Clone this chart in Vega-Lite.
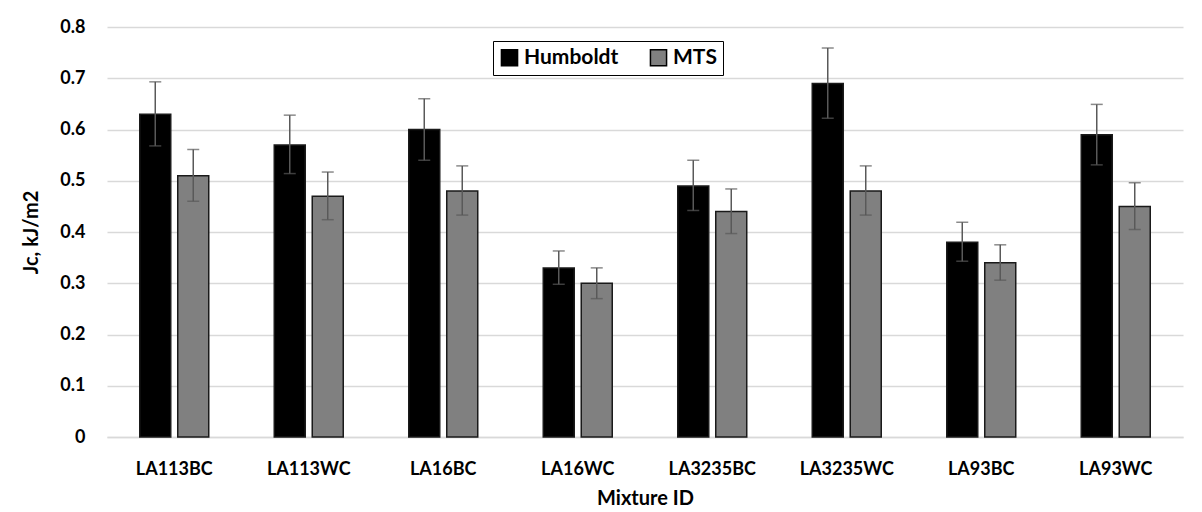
{
  "$schema": "https://vega.github.io/schema/vega-lite/v6.json",
  "width": 1076,
  "height": 410,
  "autosize": {"type": "none"},
  "padding": {"left": 107, "top": 27, "right": 19, "bottom": 75},
  "background": "white",
  "config": {
    "view": {"stroke": null},
    "font": "Lato",
    "axis": {"labelFont": "Lato", "titleFont": "Lato", "labelFontWeight": "bold", "titleFontWeight": "bold", "labelColor": "black", "titleColor": "black"}
  },
  "data": {
    "values": [
      {"mixture": "LA113BC", "device": "Humboldt", "jc": 0.63, "lo": 0.568, "hi": 0.693},
      {"mixture": "LA113BC", "device": "MTS", "jc": 0.51, "lo": 0.460, "hi": 0.561},
      {"mixture": "LA113WC", "device": "Humboldt", "jc": 0.57, "lo": 0.514, "hi": 0.628},
      {"mixture": "LA113WC", "device": "MTS", "jc": 0.47, "lo": 0.424, "hi": 0.517},
      {"mixture": "LA16BC", "device": "Humboldt", "jc": 0.60, "lo": 0.540, "hi": 0.660},
      {"mixture": "LA16BC", "device": "MTS", "jc": 0.48, "lo": 0.433, "hi": 0.529},
      {"mixture": "LA16WC", "device": "Humboldt", "jc": 0.33, "lo": 0.298, "hi": 0.363},
      {"mixture": "LA16WC", "device": "MTS", "jc": 0.30, "lo": 0.270, "hi": 0.330},
      {"mixture": "LA3235BC", "device": "Humboldt", "jc": 0.49, "lo": 0.442, "hi": 0.540},
      {"mixture": "LA3235BC", "device": "MTS", "jc": 0.44, "lo": 0.397, "hi": 0.484},
      {"mixture": "LA3235WC", "device": "Humboldt", "jc": 0.69, "lo": 0.622, "hi": 0.759},
      {"mixture": "LA3235WC", "device": "MTS", "jc": 0.48, "lo": 0.433, "hi": 0.529},
      {"mixture": "LA93BC", "device": "Humboldt", "jc": 0.38, "lo": 0.343, "hi": 0.419},
      {"mixture": "LA93BC", "device": "MTS", "jc": 0.34, "lo": 0.306, "hi": 0.375},
      {"mixture": "LA93WC", "device": "Humboldt", "jc": 0.59, "lo": 0.531, "hi": 0.649},
      {"mixture": "LA93WC", "device": "MTS", "jc": 0.45, "lo": 0.405, "hi": 0.496}
    ]
  },
  "encoding": {
    "x": {
      "field": "mixture", "type": "nominal", "sort": null,
      "scale": {"paddingInner": 0.487, "paddingOuter": 0.2435},
      "axis": {"title": "Mixture ID", "labelAngle": 0, "labelFontSize": 18, "titleFontSize": 20, "labelPadding": 23, "titlePadding": 10, "ticks": false, "domainColor": "#d9d9d9", "domainWidth": 1.5}
    },
    "xOffset": {"field": "device", "type": "nominal", "scale": {"paddingInner": 0.184, "paddingOuter": 0}}
  },
  "layer": [
    {
      "mark": {"type": "bar", "strokeWidth": 1.5, "stroke": "#1a1a1a"},
      "encoding": {
        "y": {
          "field": "jc", "type": "quantitative",
          "scale": {"domain": [0, 0.8]},
          "axis": {"title": "Jc, kJ/m2", "values": [0, 0.1, 0.2, 0.3, 0.4, 0.5, 0.6, 0.7, 0.8], "labelExpr": "datum.value == 0 ? '0' : format(datum.value, '.1f')", "labelFontSize": 18, "titleFontSize": 20, "labelPadding": 22, "titlePadding": 18, "ticks": false, "domain": false, "gridColor": "#d9d9d9", "gridWidth": 1.5}
        },
        "color": {
          "field": "device", "type": "nominal",
          "scale": {"domain": ["Humboldt", "MTS"], "range": ["#000000", "#808080"]},
          "legend": {
            "title": null, "orient": "none", "direction": "horizontal", "legendX": 386, "legendY": 14,
            "symbolType": "square", "symbolSize": 260, "symbolStrokeColor": "#000000", "symbolStrokeWidth": 1.5,
            "labelFontSize": 21, "labelFontWeight": "bold", "labelColor": "black", "columnPadding": 28, "labelOffset": 4,
            "strokeColor": "#000000", "padding": 6, "offset": 0
          }
        }
      }
    },
    {
      "mark": {"type": "rule", "color": "#595959", "strokeWidth": 1.5},
      "encoding": {
        "y": {"field": "lo", "type": "quantitative"},
        "y2": {"field": "hi"}
      }
    },
    {
      "mark": {"type": "tick", "color": "#595959", "thickness": 1.5, "size": 12},
      "encoding": {"y": {"field": "lo", "type": "quantitative"}}
    },
    {
      "mark": {"type": "tick", "color": "#595959", "thickness": 1.5, "size": 12},
      "encoding": {"y": {"field": "hi", "type": "quantitative"}}
    }
  ]
}
